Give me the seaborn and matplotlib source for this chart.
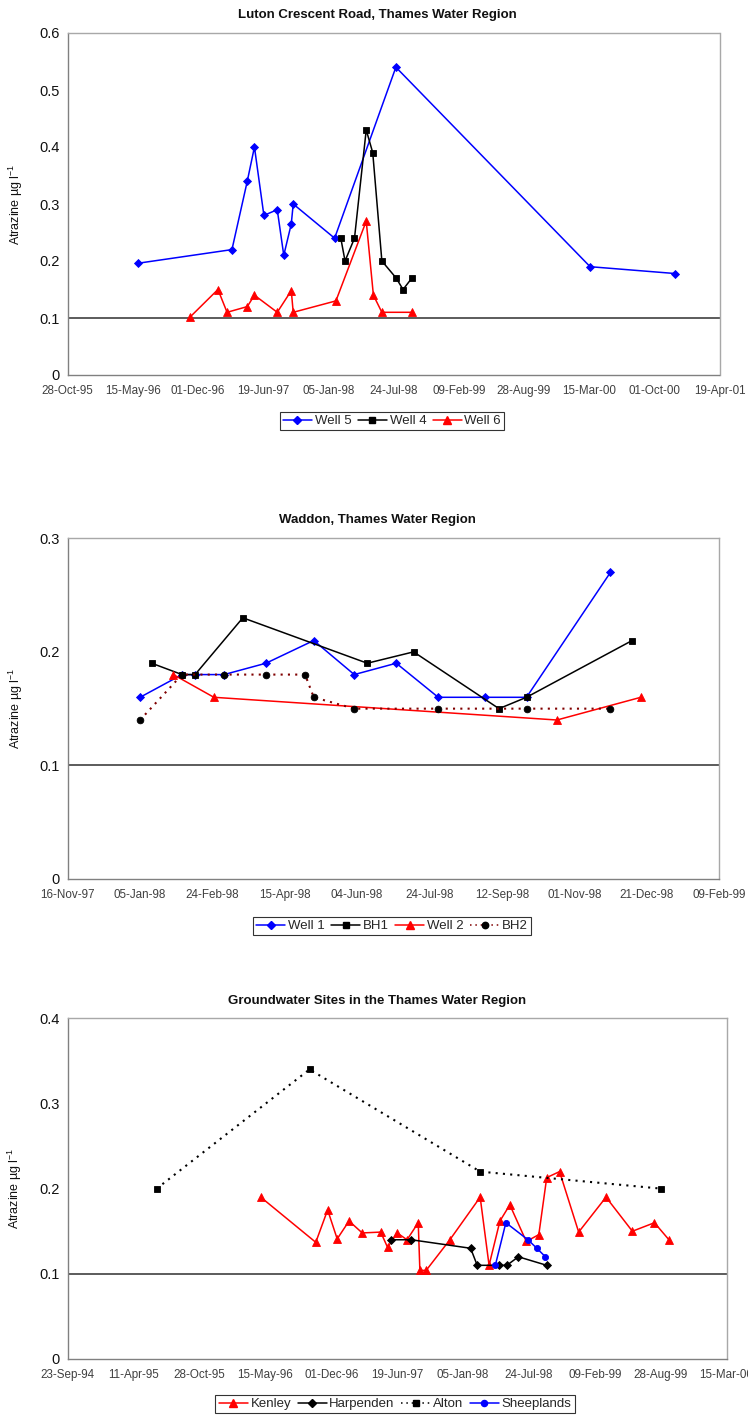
import matplotlib as mpl
mpl.use('Agg')
import matplotlib.pyplot as plt
import matplotlib.dates as mdates
from matplotlib.ticker import FuncFormatter, MultipleLocator
from matplotlib.lines import Line2D
import pandas as pd
import seaborn as sns

sns.set_theme(style="white")
plt.rcParams['font.family'] = ['Liberation Sans', 'DejaVu Sans']
plt.rcParams['mathtext.fontset'] = 'custom'
plt.rcParams['mathtext.rm'] = 'Liberation Sans'
plt.rcParams['mathtext.it'] = 'Liberation Sans:italic'

# ---- Luton Crescent Road ----
well5_dates = ["30-May-96", "15-Mar-97", "01-May-97", "23-May-97", "21-Jun-97", "01-Aug-97",
               "21-Aug-97", "13-Sep-97", "19-Sep-97", "24-Jan-98", "31-Jul-98", "18-Mar-00", "04-Dec-00"]
well5_vals = [0.196, 0.22, 0.34, 0.40, 0.28, 0.29, 0.21, 0.265, 0.30, 0.24, 0.54, 0.19, 0.178]
well4_dates = ["12-Feb-98", "25-Feb-98", "26-Mar-98", "01-May-98", "21-May-98", "18-Jun-98",
               "01-Aug-98", "22-Aug-98", "18-Sep-98"]
well4_vals = [0.24, 0.20, 0.24, 0.43, 0.39, 0.20, 0.17, 0.15, 0.17]
well6_dates = ["07-Nov-96", "31-Jan-97", "28-Feb-97", "01-May-97", "23-May-97", "01-Aug-97",
               "13-Sep-97", "19-Sep-97", "28-Jan-98", "01-May-98", "23-May-98", "18-Jun-98", "18-Sep-98"]
well6_vals = [0.102, 0.15, 0.11, 0.12, 0.14, 0.11, 0.148, 0.11, 0.13, 0.27, 0.14, 0.11, 0.11]

# ---- Waddon ----
well1_dates = ["05-Jan-98", "03-Feb-98", "12-Feb-98", "04-Mar-98", "02-Apr-98", "05-May-98",
               "02-Jun-98", "01-Jul-98", "30-Jul-98", "31-Aug-98", "29-Sep-98", "26-Nov-98"]
well1_vals = [0.16, 0.18, 0.18, 0.18, 0.19, 0.21, 0.18, 0.19, 0.16, 0.16, 0.16, 0.27]
bh1_dates = ["13-Jan-98", "03-Feb-98", "12-Feb-98", "17-Mar-98", "11-Jun-98", "13-Jul-98",
             "10-Sep-98", "29-Sep-98", "11-Dec-98"]
bh1_vals = [0.19, 0.18, 0.18, 0.23, 0.19, 0.20, 0.15, 0.16, 0.21]
well2_dates = ["28-Jan-98", "25-Feb-98", "20-Oct-98", "17-Dec-98"]
well2_vals = [0.18, 0.16, 0.14, 0.16]
bh2_dates = ["05-Jan-98", "03-Feb-98", "04-Mar-98", "02-Apr-98", "29-Apr-98", "05-May-98",
             "02-Jun-98", "30-Jul-98", "29-Sep-98", "26-Nov-98"]
bh2_vals = [0.14, 0.18, 0.18, 0.18, 0.18, 0.16, 0.15, 0.15, 0.15, 0.15]

# ---- Groundwater sites ----
kenley_dates = ["01-May-96", "15-Oct-96", "20-Nov-96", "19-Dec-96", "24-Jan-97", "05-Mar-97",
                "30-Apr-97", "21-May-97", "19-Jun-97", "19-Jul-97", "22-Aug-97", "27-Aug-97",
                "15-Sep-97", "26-Nov-97", "26-Feb-98", "25-Mar-98", "27-Apr-98", "27-May-98",
                "16-Jul-98", "23-Aug-98", "16-Sep-98", "25-Oct-98", "22-Dec-98", "15-Mar-99",
                "03-Jun-99", "09-Aug-99", "22-Sep-99"]
kenley_vals = [0.19, 0.137, 0.175, 0.141, 0.162, 0.148, 0.149, 0.131, 0.148, 0.14, 0.16, 0.104,
               0.104, 0.14, 0.19, 0.11, 0.162, 0.181, 0.138, 0.146, 0.213, 0.22, 0.149, 0.19,
               0.15, 0.16, 0.14]
harpenden_dates = ["01-Jun-97", "01-Aug-97", "28-Jan-98", "17-Feb-98", "25-Apr-98", "18-May-98",
                   "22-Jun-98", "16-Sep-98"]
harpenden_vals = [0.14, 0.14, 0.13, 0.11, 0.11, 0.11, 0.12, 0.11]
alton_dates = ["20-Jun-95", "26-Sep-96", "26-Feb-98", "30-Aug-99"]
alton_vals = [0.20, 0.34, 0.22, 0.20]
sheeplands_dates = ["13-Apr-98", "15-May-98", "21-Jul-98", "17-Aug-98", "12-Sep-98"]
sheeplands_vals = [0.11, 0.16, 0.14, 0.13, 0.12]

W, H = 748, 1416
fig = plt.figure(figsize=(W / 100, H / 100), dpi=100)


def to_dt(lst):
    return pd.to_datetime(lst, format="%d-%b-%y")


def make_axes(left, right, top, bottom):
    return fig.add_axes([left / W, 1 - bottom / H, (right - left) / W, (bottom - top) / H])


def style_axes(ax, start, step_days, nticks, ymax):
    ticks = pd.date_range(pd.to_datetime(start, format="%d-%b-%y"), periods=nticks,
                          freq=f"{step_days}D")
    ax.set_xlim(ticks[0], ticks[-1])
    ax.set_xticks(ticks)
    ax.xaxis.set_major_formatter(mdates.DateFormatter("%d-%b-%y"))
    ax.set_ylim(0, ymax)
    ax.yaxis.set_major_locator(MultipleLocator(0.1))
    ax.yaxis.set_major_formatter(FuncFormatter(lambda v, p: "0" if abs(v) < 1e-9 else f"{v:.1f}"))
    ax.tick_params(axis="x", direction="out", length=3, width=0.8, colors="#808080",
                   labelcolor="#404040", labelsize=8.4, pad=4)
    ax.tick_params(axis="y", direction="out", length=4, width=0.8, colors="#808080",
                   labelcolor="#111111", labelsize=10.5, pad=2)
    for side in ["left", "bottom"]:
        ax.spines[side].set_color("#808080")
        ax.spines[side].set_linewidth(1.0)
    for side in ["top", "right"]:
        ax.spines[side].set_color("#a8a8a8")
        ax.spines[side].set_linewidth(1.0)
    ax.axhline(0.1, color="#404040", lw=1.2, zorder=1)
    ax.set_xlabel("")
    ax.set_ylabel("Atrazine µg l$^{-1}$", fontsize=9, color="#111111")
    ax.yaxis.set_label_coords(-0.066, 0.5)
    if ax.get_legend() is not None:
        ax.get_legend().remove()


def draw(ax, dates, vals, color, marker, ms, ls="-", mfc=None, mec=None, lw=1.1):
    sns.lineplot(x=to_dt(dates), y=vals, ax=ax, color=color, marker=marker, markersize=ms,
                 linestyle=ls, linewidth=lw, sort=False, markerfacecolor=mfc or color,
                 markeredgecolor=mec or color, markeredgewidth=0.6, zorder=3)


def add_legend(ax, entries, cx, cy, ncol):
    handles = [Line2D([0], [0], color=c, marker=m, markersize=ms, linestyle=ls, linewidth=1.1,
                      markerfacecolor=mf, markeredgecolor=mf) for c, m, ms, ls, mf in entries[1]]
    leg = ax.legend(handles, entries[0], loc="center", bbox_to_anchor=(cx / W, 1 - cy / H),
                    bbox_transform=fig.transFigure, ncol=ncol, frameon=True, fancybox=False,
                    edgecolor="black", fontsize=9.5, handlelength=2.2, handletextpad=0.2,
                    columnspacing=0.5, borderpad=0.25, borderaxespad=0)
    leg.get_frame().set_linewidth(0.8)


# Chart 1
ax1 = make_axes(67.7, 719.5, 33, 375)
draw(ax1, well5_dates, well5_vals, "#0000ff", "D", 4.2)
draw(ax1, well4_dates, well4_vals, "#000000", "s", 4.6)
draw(ax1, well6_dates, well6_vals, "#ff0000", "^", 5.5)
style_axes(ax1, "28-Oct-95", 200, 11, 0.6)
fig.text(377 / W, 1 - 15 / H, "Luton Crescent Road, Thames Water Region", ha="center",
         va="center", fontsize=9.5, fontweight="bold", color="#111111")
add_legend(ax1, (["Well 5", "Well 4", "Well 6"],
                 [("#0000ff", "D", 4.2, "-", "#0000ff"), ("#000000", "s", 4.6, "-", "#000000"),
                  ("#ff0000", "^", 5.5, "-", "#ff0000")]), 392, 421, 3)

# Chart 2
ax2 = make_axes(67.7, 719.0, 538.3, 879)
draw(ax2, well1_dates, well1_vals, "#0000ff", "D", 4.2)
draw(ax2, bh1_dates, bh1_vals, "#000000", "s", 5.0)
draw(ax2, well2_dates, well2_vals, "#ff0000", "^", 5.5)
draw(ax2, bh2_dates, bh2_vals, "#800000", "o", 4.8, ls=(0, (1, 2.5)), mfc="#000000",
     mec="#000000", lw=1.5)
style_axes(ax2, "16-Nov-97", 50, 10, 0.3)
fig.text(377 / W, 1 - 520 / H, "Waddon, Thames Water Region", ha="center",
         va="center", fontsize=9.5, fontweight="bold", color="#111111")
add_legend(ax2, (["Well 1", "BH1", "Well 2", "BH2"],
                 [("#0000ff", "D", 4.2, "-", "#0000ff"), ("#000000", "s", 4.6, "-", "#000000"),
                  ("#ff0000", "^", 5.5, "-", "#ff0000"),
                  ("#800000", "o", 4.6, (0, (1, 2.5)), "#000000")]), 392, 926, 4)

# Chart 3
ax3 = make_axes(67.7, 726.6, 1018.3, 1359)
draw(ax3, kenley_dates, kenley_vals, "#ff0000", "^", 5.5)
draw(ax3, harpenden_dates, harpenden_vals, "#000000", "D", 3.6)
draw(ax3, alton_dates, alton_vals, "#000000", "s", 4.8, ls=(0, (1, 2.5)), lw=1.5)
draw(ax3, sheeplands_dates, sheeplands_vals, "#0000ff", "o", 4.4)
style_axes(ax3, "23-Sep-94", 200, 11, 0.4)
fig.text(377 / W, 1 - 1001 / H, "Groundwater Sites in the Thames Water Region", ha="center",
         va="center", fontsize=9.5, fontweight="bold", color="#111111")
add_legend(ax3, (["Kenley", "Harpenden", "Alton", "Sheeplands"],
                 [("#ff0000", "^", 5.5, "-", "#ff0000"), ("#000000", "D", 3.6, "-", "#000000"),
                  ("#000000", "s", 4.6, (0, (1, 2.5)), "#000000"),
                  ("#0000ff", "o", 4.4, "-", "#0000ff")]), 395, 1404, 4)

fig.savefig("out.png", dpi=100, facecolor="white")
